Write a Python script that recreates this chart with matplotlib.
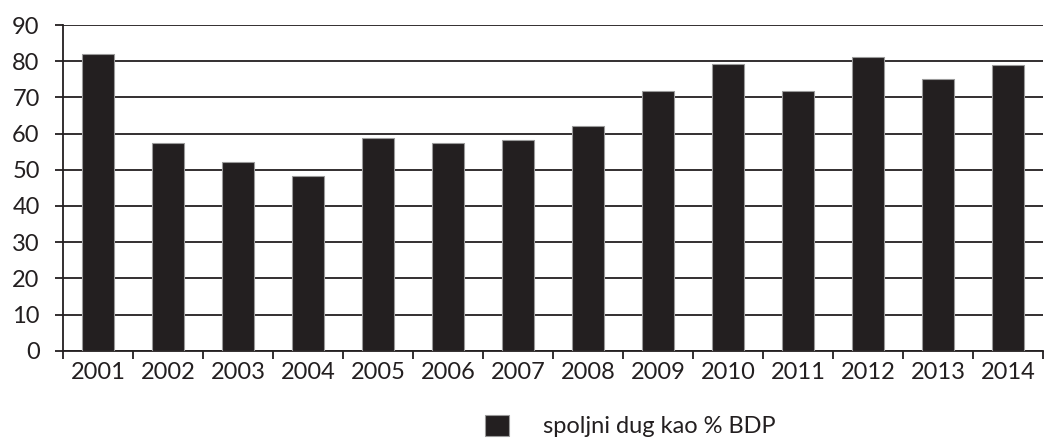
import matplotlib
matplotlib.use("Agg")
import matplotlib.pyplot as plt
import numpy as np

plt.rcParams["font.family"] = ["Lato", "DejaVu Sans"]

# spoljni dug kao % BDP, 2001–2014
godine = ["2001", "2002", "2003", "2004", "2005", "2006", "2007",
          "2008", "2009", "2010", "2011", "2012", "2013", "2014"]
dug_bdp = [81.9, 57.3, 52.1, 48.2, 58.7, 57.4, 58.3,
           62.2, 71.8, 79.1, 71.8, 81.2, 75.1, 78.9]

TAMNA = "#231f20"
W, H = 1044, 438
FS = 17

fig = plt.figure(figsize=(W / 100, H / 100), dpi=100)
ax = fig.add_axes([63.3 / W, (H - 350.7) / H, (1043 - 63.3) / W, (350.7 - 25) / H])

x = np.arange(len(godine))
ax.bar(x, dug_bdp, width=0.46, color=TAMNA, edgecolor="#9a9a9a",
       linewidth=0.8, zorder=3, label="spoljni dug kao % BDP")

ax.set_ylim(0, 90)
ax.set_xlim(-0.5, len(godine) - 0.5)
ax.set_yticks(range(0, 91, 10))
ax.yaxis.grid(True, color=TAMNA, linewidth=1.3, zorder=0)
ax.set_axisbelow(True)

# crtice na granicama kategorija, oznake godina u sredini
ax.set_xticks(np.arange(-0.5, len(godine), 1.0))
ax.set_xticklabels([])
ax.set_xticks(x, minor=True)
ax.set_xticklabels(godine, minor=True)
ax.tick_params(axis="x", which="major", length=6, width=1.3, color=TAMNA, direction="out")
ax.tick_params(axis="x", which="minor", length=0, pad=8, labelsize=FS, labelcolor=TAMNA)
ax.tick_params(axis="y", length=6, width=1.3, color=TAMNA, pad=11,
               labelsize=FS, labelcolor=TAMNA)

for s in ["top", "right"]:
    ax.spines[s].set_visible(False)
for s in ["left", "bottom"]:
    ax.spines[s].set_color(TAMNA)
    ax.spines[s].set_linewidth(1.3)

fig.legend(loc="center left", bbox_to_anchor=(485 / W, 12 / H), frameon=False,
           fontsize=FS, handlelength=1.0, handleheight=1.0, handletextpad=1.45,
           borderpad=0, borderaxespad=0, labelcolor=TAMNA)

fig.savefig("out.png", dpi=100, facecolor="white")
